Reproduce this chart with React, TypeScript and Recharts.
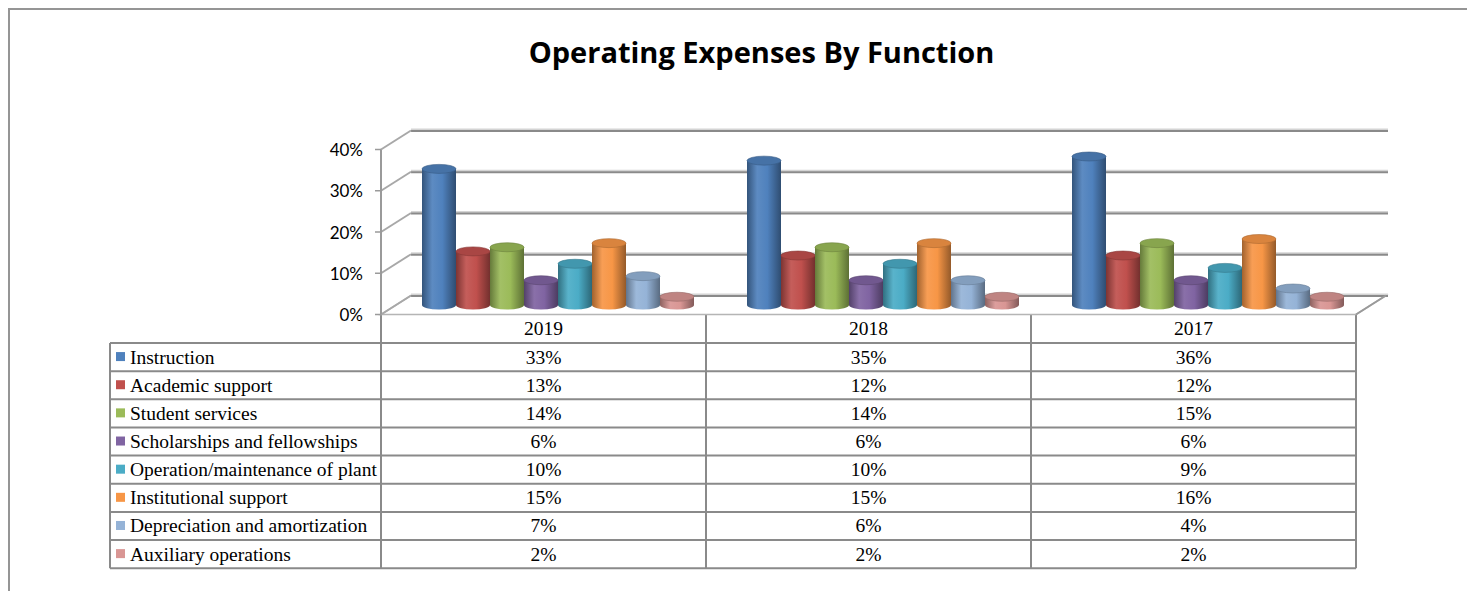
import React from "react";
import { BarChart, Bar, XAxis, YAxis, CartesianGrid } from "recharts";

// table columns and rows
const years = ["2019", "2018", "2017"];
const functions = [
  "Instruction",
  "Academic support",
  "Student services",
  "Scholarships and fellowships",
  "Operation/maintenance of plant",
  "Institutional support",
  "Depreciation and amortization",
  "Auxiliary operations",
];

// percent of operating expenses, one array per function (2019, 2018, 2017)
const instruction = [33, 35, 36];
const academicSupport = [13, 12, 12];
const studentServices = [14, 14, 15];
const scholarships = [6, 6, 6];
const operation = [10, 10, 9];
const institutional = [15, 15, 16];
const depreciation = [7, 6, 4];
const auxiliary = [2, 2, 2];

const yTicks = [0, 10, 20, 30, 40];

const seriesValues = [
  instruction,
  academicSupport,
  studentServices,
  scholarships,
  operation,
  institutional,
  depreciation,
  auxiliary,
];

const COLORS = ["#4F81BD", "#C0504D", "#9BBB59", "#8064A2", "#4BACC6", "#F79646", "#95B3D7", "#D99694"];

const data = years.map((year, i) => {
  const row: Record<string, string | number> = { year };
  seriesValues.forEach((vals, s) => {
    row["s" + s] = vals[i];
  });
  return row;
});

// chart geometry (bars sit in the middle depth plane)
const CW = 1440;
const CH = 340;
const MARGIN = { top: 130, right: 79, bottom: 45, left: 326 };
const YAXIS_W = 60;
const PLOT_LEFT = MARGIN.left + YAXIS_W;
const PLOT_BOTTOM = CH - MARGIN.bottom;
const HX = 15; // half depth, x
const HY = 9.5; // half depth, y
const FRONT_X = PLOT_LEFT - HX;
const LINE = "#8a8a8a";

const SANS = "Lato, 'Open Sans', sans-serif";
const SERIF = "'Liberation Serif', 'Times New Roman', serif";
const TABLE_FONT = 19.5;

function shade(hex: string, f: number) {
  const n = parseInt(hex.slice(1), 16);
  const r = (n >> 16) & 255;
  const g = (n >> 8) & 255;
  const b = n & 255;
  const m = (c: number) => (f < 0 ? Math.round(c * (1 + f)) : Math.round(c + (255 - c) * f));
  return `rgb(${m(r)},${m(g)},${m(b)})`;
}

function Cylinder(props: any) {
  const { x, y, width, height, color, gid } = props;
  if (width == null || height == null || isNaN(y)) return null;
  const rx = width / 2;
  const ry = 4.5;
  const cx = x + rx;
  return (
    <g>
      <defs>
        <linearGradient id={gid} x1="0" y1="0" x2="1" y2="0">
          <stop offset="0%" stopColor={shade(color, -0.35)} />
          <stop offset="30%" stopColor={shade(color, 0.08)} />
          <stop offset="60%" stopColor={color} />
          <stop offset="100%" stopColor={shade(color, -0.4)} />
        </linearGradient>
      </defs>
      <ellipse cx={cx} cy={y + height} rx={rx} ry={ry} fill={`url(#${gid})`} />
      <rect x={x} y={y} width={width} height={height} fill={`url(#${gid})`} />
      <ellipse cx={cx} cy={y} rx={rx} ry={ry} fill={shade(color, -0.12)} stroke={shade(color, -0.3)} strokeWidth={0.6} />
    </g>
  );
}

// back wall gridline + left wall diagonal for every tick
function WallLine(p: any) {
  const { x1, x2, y1 } = p;
  const y = y1;
  const floor = Math.abs(y - PLOT_BOTTOM) < 0.5;
  return (
    <g key={p.key}>
      {floor && (
        <polygon
          points={`${x1 - HX},${y + HY} ${x2 - HX},${y + HY} ${x2 + HX},${y - HY} ${x1 + HX},${y - HY}`}
          fill="#fff"
          stroke="#b5b5b5"
          strokeWidth={1.5}
        />
      )}
      <line x1={x1 + HX} x2={x2 + HX + 2} y1={y - HY - 1} y2={y - HY - 1} stroke="#d4d4d4" strokeWidth={2} />
      <line x1={x1 + HX} x2={x2 + HX + 2} y1={y - HY + 0.5} y2={y - HY + 0.5} stroke={LINE} strokeWidth={2} />
      <line x1={x1 - HX} x2={x1 + HX} y1={y + HY} y2={y - HY} stroke="#a8a8a8" strokeWidth={2} />
      {floor && (
        <line x1={x2 - HX} x2={x2 + HX} y1={y + HY} y2={y - HY} stroke="#9a9a9a" strokeWidth={2} />
      )}
    </g>
  );
}

function TickLabel(p: any) {
  const { y, payload } = p;
  return (
    <g>
      <line x1={FRONT_X - 6} x2={FRONT_X} y1={y + HY} y2={y + HY} stroke="#9a9a9a" strokeWidth={1.5} />
      {payload.value === yTicks[yTicks.length - 1] && (
        <line x1={FRONT_X} x2={FRONT_X} y1={y + HY} y2={PLOT_BOTTOM + HY} stroke="#9a9a9a" strokeWidth={2} />
      )}
      <text
        x={FRONT_X - 18}
        y={y + HY}
        textAnchor="end"
        dominantBaseline="central"
        fontFamily={SANS}
        fontSize={17}
        fill="#000"
      >
        {payload.value}%
      </text>
    </g>
  );
}

function DataTable() {
  const cols = [100, 371, 696, 1021, 1346];
  const top = 304;
  const headH = 29;
  const rowH = 28.15;
  const bottom = top + headH + rowH * functions.length;
  return (
    <svg width={1459} height={590} style={{ position: "absolute", left: 0, top: 0 }}>
      <line x1={cols[1]} x2={cols[4]} y1={top} y2={top} stroke={LINE} strokeWidth={2} />
      {cols.map((cx, i) => (
        <line key={"v" + i} x1={cx} x2={cx} y1={i === 0 ? top + headH : top} y2={bottom} stroke={LINE} strokeWidth={2} />
      ))}
      {functions.map((_, i) => (
        <line key={"h" + i} x1={cols[0]} x2={cols[4]} y1={top + headH + rowH * i} y2={top + headH + rowH * i} stroke={LINE} strokeWidth={2} />
      ))}
      <line x1={cols[0]} x2={cols[4]} y1={bottom} y2={bottom} stroke={LINE} strokeWidth={2} />
      {years.map((yr, c) => (
        <text key={yr} x={(cols[c + 1] + cols[c + 2]) / 2} y={top + headH / 2} textAnchor="middle" dominantBaseline="central" fontFamily={SERIF} fontSize={TABLE_FONT}>
          {yr}
        </text>
      ))}
      {functions.map((name, r) => {
        const cy = top + headH + rowH * r + rowH / 2;
        return (
          <g key={name}>
            <rect x={106} y={cy - 5} width={9} height={9} fill={COLORS[r]} />
            <text x={120} y={cy} dominantBaseline="central" fontFamily={SERIF} fontSize={TABLE_FONT}>
              {name}
            </text>
            {years.map((yr, c) => (
              <text key={yr} x={(cols[c + 1] + cols[c + 2]) / 2} y={cy} textAnchor="middle" dominantBaseline="central" fontFamily={SERIF} fontSize={TABLE_FONT}>
                {seriesValues[r][c]}%
              </text>
            ))}
          </g>
        );
      })}
    </svg>
  );
}

export default function App() {
  return (
    <div
      style={{
        position: "relative",
        width: 1459,
        height: 590,
        border: "2px solid #959595",
        background: "#fff",
      }}
    >
      <div
        style={{
          position: "absolute",
          left: 751.5,
          top: 23,
          transform: "translateX(-50%)",
          whiteSpace: "nowrap",
          fontFamily: "'Open Sans', Lato, sans-serif",
          fontWeight: 700,
          fontSize: 29,
          lineHeight: "38px",
        }}
      >
        Operating Expenses By Function
      </div>
      <DataTable />
      <div style={{ position: "absolute", left: 0, top: 0 }}>
        <BarChart width={CW} height={CH} data={data} margin={MARGIN} barCategoryGap={26} barGap={0}>
          <CartesianGrid vertical={false} horizontal={(p: any) => <WallLine {...p} />} />
          <XAxis dataKey="year" hide />
          <YAxis
            width={YAXIS_W}
            domain={[0, 40]}
            ticks={yTicks}
            interval={0}
            axisLine={false}
            tickLine={false}
            tick={(p: any) => <TickLabel {...p} />}
          />
          {seriesValues.map((_, s) => (
            <Bar
              key={s}
              dataKey={"s" + s}
              name={functions[s]}
              fill={COLORS[s]}
              isAnimationActive={false}
              shape={(p: any) => <Cylinder {...p} color={COLORS[s]} gid={`cyl-${s}-${p.index}`} />}
            />
          ))}
        </BarChart>
      </div>
    </div>
  );
}
